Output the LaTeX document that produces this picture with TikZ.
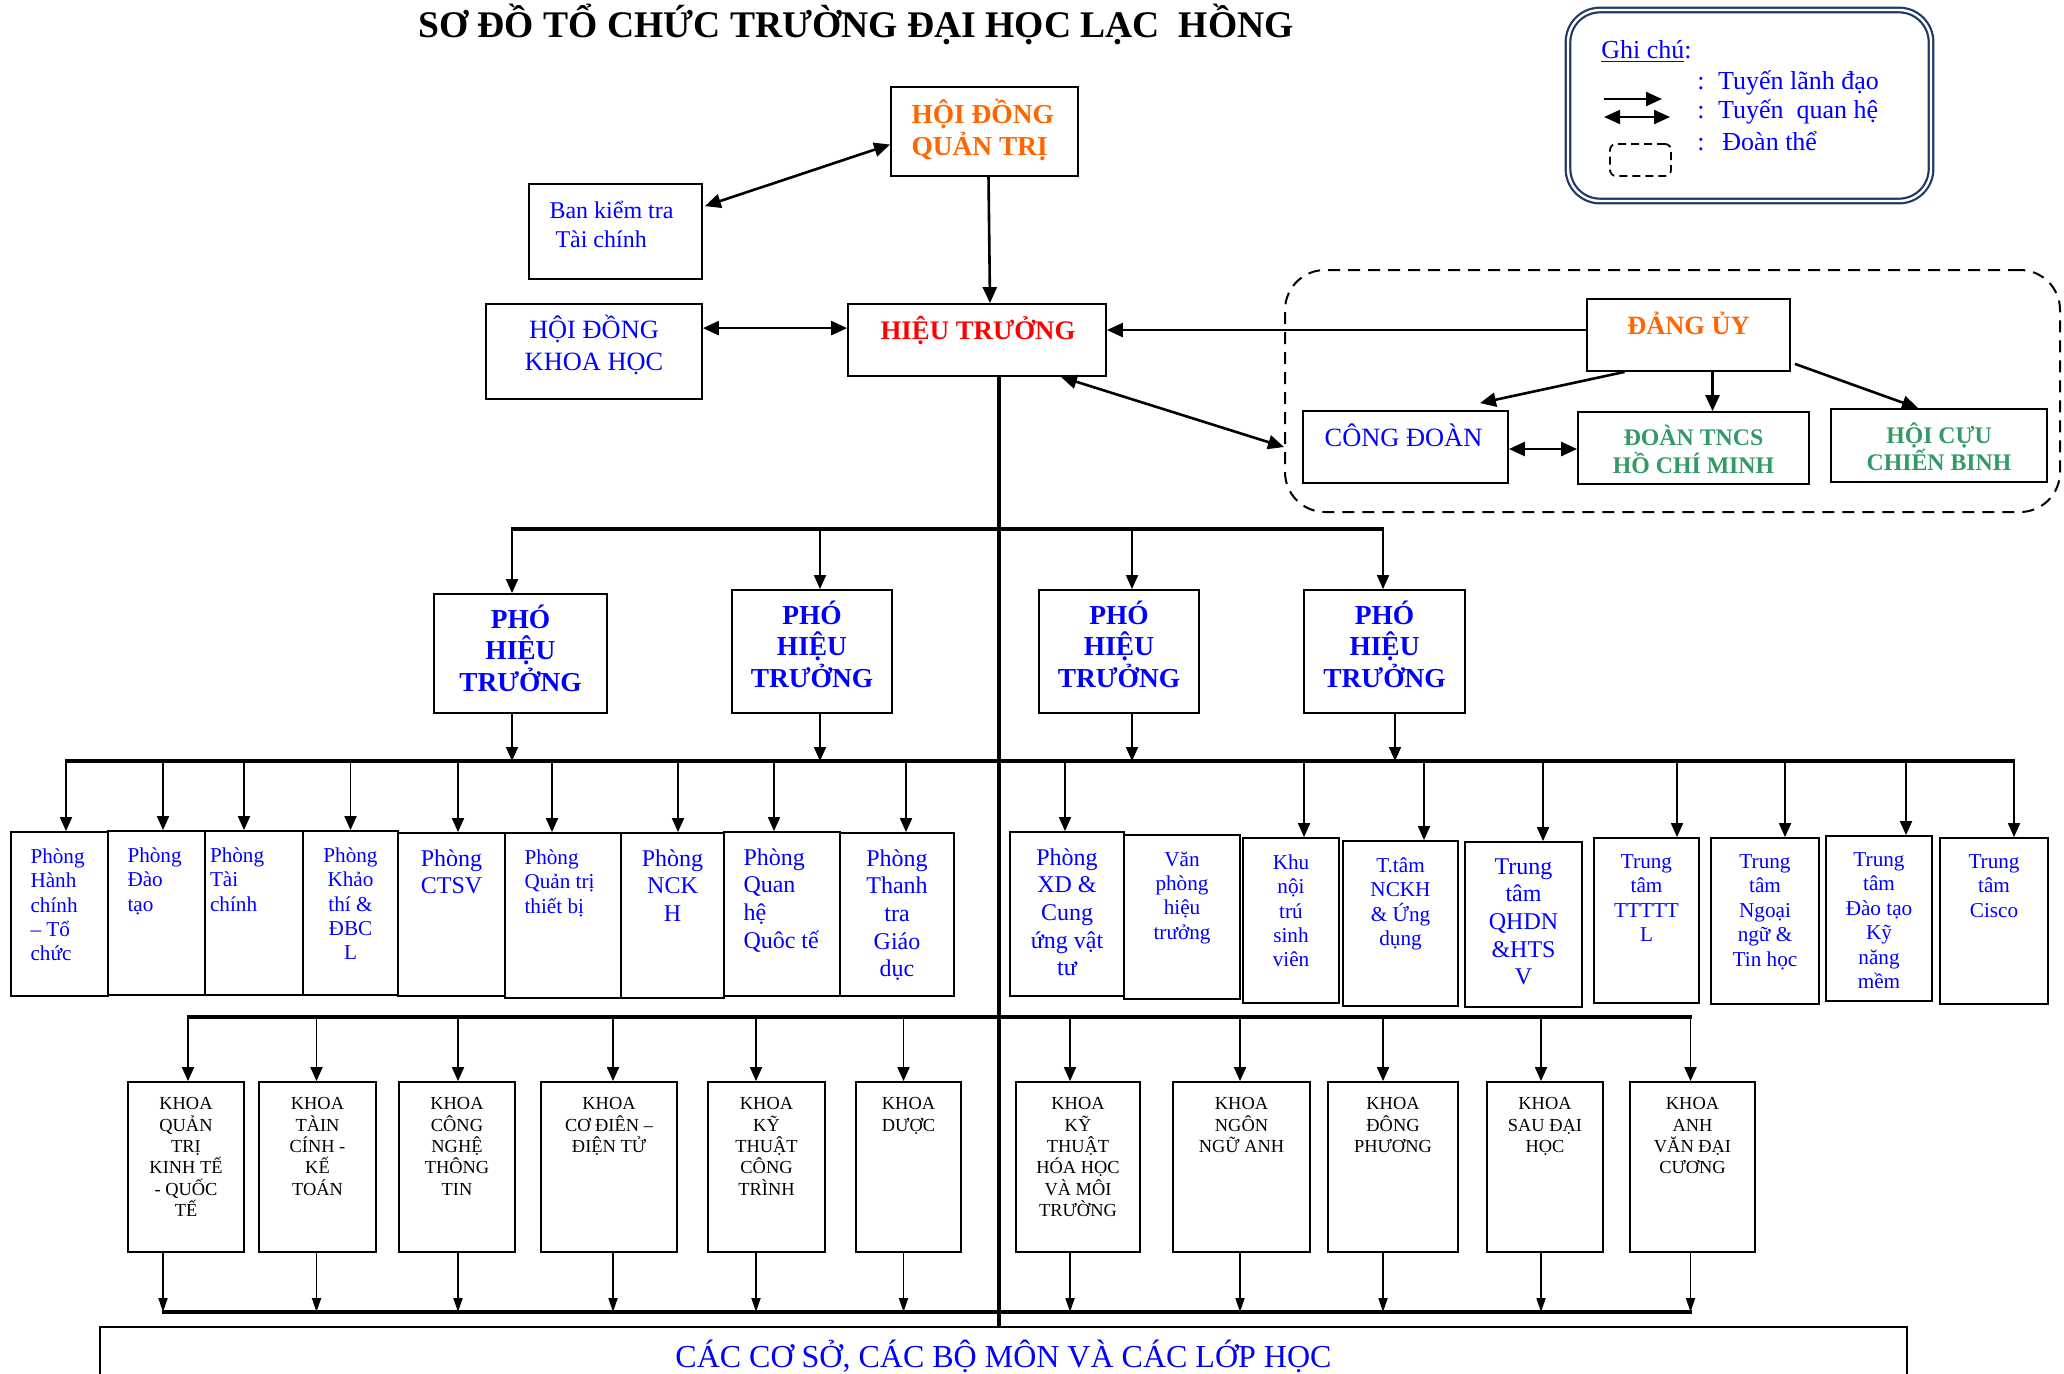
\documentclass[tikz,border=0pt]{standalone}
\usepackage{fontspec}
\setmainfont{Liberation Serif}
\usetikzlibrary{arrows.meta,calc,fit}
\definecolor{cblue}{RGB}{0,0,255}
\definecolor{corange}{RGB}{255,102,0}
\definecolor{cred}{RGB}{255,0,0}
\definecolor{cgreen}{RGB}{51,153,102}
\definecolor{cnavy}{RGB}{31,56,100}
\newcommand\tapin[4]{\path ($(#1.north)+(#2,0)$) coordinate (#1-t);\draw[#4] (#1-t |- #3) -- (#1-t);}
\newcommand\tapout[4]{\path ($(#1.south)+(#2,0)$) coordinate (#1-b);\draw[#4] (#1-b) -- (#1-b |- #3);}
\newcommand\mkbox[5]{\node[box, fit={(#2,#3)(#4,#5)}] (#1) {};}
\newcommand\ctxt[4]{\node[#2, anchor=north] at ($(#1.north)+(0,#3)$) {#4};}
\newcommand\ltxt[4]{\node[#2, align=left, anchor=north west] at ($(#1.north west)+(#3)$) {#4};}
\begin{document}
\begin{tikzpicture}[x=0.5pt,y=-0.5pt,
  box/.style={draw, line width=0.9pt, inner sep=0pt},
  big/.style={line width=1.3pt},
  lead/.style={big, -{Triangle[length=8pt,width=7pt]}},
  rel/.style={big, {Triangle[length=8pt,width=7pt]}-{Triangle[length=8pt,width=7pt]}},
  tap/.style={line width=0.9pt, -{Triangle[length=7pt,width=6pt]}},
  tapn/.style={line width=0.9pt, -{Triangle[length=7pt,width=4.5pt]}},
  bus/.style={line width=1.6pt},
  trunk/.style={line width=2pt},
  txt/.style={inner sep=0pt, align=center},
  ptS/.style={txt, text=cblue, font=\fontsize{10.6}{12.2}\selectfont},
  ptL/.style={txt, text=cblue, font=\fontsize{12}{13.8}\selectfont},
  kt/.style={txt, font=\fontsize{9.2}{10.7}\selectfont},
  phts/.style={txt, text=cblue, font=\fontsize{13.7}{15.8}\selectfont\bfseries},
  lgt/.style={anchor=base west, inner sep=0pt, text=cblue, font=\fontsize{13}{15}\selectfont},
]
\useasboundingbox (0,0) rectangle (2064,1373);
\clip (0,0) rectangle (2064,1373);
\fill[white] (0,0) rectangle (2064,1373);

% title
\node[anchor=base, inner sep=0pt, font=\fontsize{18.8}{22}\selectfont\bfseries] (title) at (856,37) {SƠ ĐỒ TỔ CHỨC TRƯỜNG ĐẠI HỌC LẠC~ HỒNG};

% legend
\node[draw=cnavy, double=white, double distance=1.2pt, line width=1.1pt, rounded corners=16pt, inner sep=0pt, fit={(1568,10)(1931,201)}] (legend) {};
\node[lgt] (lg0) at (1601,58) {\underline{Ghi chú}:};
\node[lgt] (lg1) at (1697,89) {:\hspace{6.7pt}Tuyến lãnh đạo};
\node[lgt] (lg2) at (1697,118) {:\hspace{6.7pt}Tuyến~ quan hệ};
\node[lgt] (lg3) at (1697,150) {:\hspace{8.9pt}Đoàn thể};
\coordinate (la1) at (1604,99); \coordinate (la2) at (1662,99);
\draw[lead, line width=1.1pt] (la1) -- (la2);
\coordinate (lb1) at (1604,117); \coordinate (lb2) at (1670,117);
\draw[rel, line width=1.1pt] (lb1) -- (lb2);
\node[draw, line width=0.9pt, dash pattern=on 4pt off 2.5pt, rounded corners=3pt, inner sep=0pt, fit={(1610,144)(1671,176)}] (lgbox) {};

% top boxes
\mkbox{hdqt}{891}{87}{1078}{176}
\node[txt, align=left, anchor=north west, text=corange, font=\fontsize{13.7}{16}\selectfont\bfseries] at ($(hdqt.north west)+(21,13)$) {HỘI ĐỒNG\\QUẢN TRỊ};
\mkbox{bkt}{529}{184}{702}{279}
\node[txt, align=left, anchor=north west, text=cblue, font=\fontsize{12}{14.5}\selectfont] at ($(bkt.north west)+(21,18)$) {Ban kiểm tra\\\hspace*{3pt}Tài chính};
\mkbox{hkh}{486}{304}{702}{399}
\node[txt, anchor=north, text=cblue, font=\fontsize{13.2}{16}\selectfont] at ($(hkh.north)+(0,12)$) {HỘI ĐỒNG\\KHOA HỌC};
\mkbox{ht}{848}{304}{1106}{376}
\node[txt, anchor=base, text=cred, font=\fontsize{13.4}{16}\selectfont\bfseries] at ($(ht.north)+(1,36.5)$) {HIỆU TRƯỞNG};

% doan the
\node[draw, line width=1pt, dash pattern=on 6pt off 4pt, rounded corners=20pt, inner sep=0pt, fit={(1285,270)(2060,512)}] (doanthe) {};
\mkbox{dangy}{1587}{299}{1790}{371}
\node[txt, anchor=base, text=corange, font=\fontsize{13.2}{16}\selectfont\bfseries] at ($(dangy.north)+(0,36.5)$) {ĐẢNG ỦY};
\mkbox{congdoan}{1303}{411}{1508}{483}
\node[txt, anchor=base, text=cblue, font=\fontsize{13.2}{16}\selectfont] at ($(congdoan.north)+(-2,36.5)$) {CÔNG ĐOÀN};
\mkbox{tncs}{1578}{412}{1809}{484}
\node[txt, anchor=north, text=cgreen, font=\fontsize{11.9}{13.8}\selectfont\bfseries] at ($(tncs.north)+(0,14)$) {ĐOÀN TNCS\\HỒ CHÍ MINH};
\mkbox{hccb}{1831}{409}{2047}{482}
\node[txt, anchor=north, text=cgreen, font=\fontsize{11.9}{13.8}\selectfont\bfseries] at ($(hccb.north)+(0,14)$) {HỘI CỰU\\CHIẾN BINH};

% pho hieu truong
\mkbox{pht1}{434}{594}{607}{713}
\mkbox{pht2}{732}{590}{892}{713}
\mkbox{pht3}{1039}{590}{1199}{713}
\mkbox{pht4}{1304}{590}{1465}{713}
\ctxt{pht1}{phts}{11}{PHÓ\\HIỆU\\TRƯỞNG}
\ctxt{pht2}{phts}{11}{PHÓ\\HIỆU\\TRƯỞNG}
\ctxt{pht3}{phts}{11}{PHÓ\\HIỆU\\TRƯỞNG}
\ctxt{pht4}{phts}{11}{PHÓ\\HIỆU\\TRƯỞNG}

% phong row
\mkbox{p1}{11}{832}{108}{996}
\mkbox{p2}{108}{831}{205}{995}
\mkbox{p3}{205}{831}{303}{995}
\mkbox{p4}{303}{831}{398}{995}
\mkbox{p5}{398}{833}{505}{996}
\mkbox{p6}{505}{833}{621}{998}
\mkbox{p7}{621}{833}{724}{998}
\mkbox{p8}{724}{832}{840}{996}
\mkbox{p9}{840}{833}{954}{996}
\mkbox{p10}{1010}{832}{1124}{996}
\mkbox{p11}{1124}{835}{1240}{999}
\mkbox{p12}{1243}{838}{1339}{1003}
\mkbox{p13}{1343}{841}{1458}{1006}
\mkbox{p14}{1465}{842}{1582}{1007}
\mkbox{p15}{1594}{838}{1699}{1003}
\mkbox{p16}{1711}{838}{1819}{1004}
\mkbox{p17}{1826}{836}{1932}{1001}
\mkbox{p18}{1940}{838}{2048}{1004}
\ltxt{p1}{ptS}{20,17}{Phòng\\Hành\\chính\\– Tổ\\chức}
\ltxt{p2}{ptS}{20,17}{Phòng\\Đào\\tạo}
\ltxt{p3}{ptS}{5.5,17}{Phòng\\Tài\\chính}
\ctxt{p4}{ptS}{17}{Phòng\\Khảo\\thí \&\\ĐBC\\L}
\ctxt{p5}{ptL}{17}{Phòng\\CTSV}
\ltxt{p6}{ptS}{20,17}{Phòng\\Quản trị\\thiết bị}
\ctxt{p7}{ptL}{17}{Phòng\\NCK\\H}
\ltxt{p8}{ptL}{20,17}{Phòng\\Quan\\hệ\\Quôc tế}
\ctxt{p9}{ptL}{17}{Phòng\\Thanh\\tra\\Giáo\\dục}
\ctxt{p10}{ptL}{17}{Phòng\\XD \&\\Cung\\ứng vật\\tư}
\ctxt{p11}{ptS}{17}{Văn\\phòng\\hiệu\\trưởng}
\ctxt{p12}{ptS}{17}{Khu\\nội\\trú\\sinh\\viên}
\ctxt{p13}{ptS}{17}{T.tâm\\NCKH\\\& Ứng\\dụng}
\ctxt{p14}{ptL}{17}{Trung\\tâm\\QHDN\\\&HTS\\V}
\ctxt{p15}{ptS}{17}{Trung\\tâm\\TTTTT\\L}
\ctxt{p16}{ptS}{17}{Trung\\tâm\\Ngoại\\ngữ \&\\Tin học}
\ctxt{p17}{ptS}{17}{Trung\\tâm\\Đào tạo\\Kỹ\\năng\\mềm}
\ctxt{p18}{ptS}{17}{Trung\\tâm\\Cisco}

% khoa row
\mkbox{k1}{128}{1082}{244}{1252}
\mkbox{k2}{259}{1082}{376}{1252}
\mkbox{k3}{399}{1082}{515}{1252}
\mkbox{k4}{541}{1082}{677}{1252}
\mkbox{k5}{708}{1082}{825}{1252}
\mkbox{k6}{856}{1082}{961}{1252}
\mkbox{k7}{1016}{1082}{1140}{1252}
\mkbox{k8}{1173}{1082}{1310}{1252}
\mkbox{k9}{1328}{1082}{1458}{1252}
\mkbox{k10}{1487}{1082}{1603}{1252}
\mkbox{k11}{1630}{1082}{1755}{1252}
\ctxt{k1}{kt}{16}{KHOA\\QUẢN\\TRỊ\\KINH TẾ\\- QUỐC\\TẾ}
\ctxt{k2}{kt}{16}{KHOA\\TÀIN\\CÍNH -\\KẾ\\TOÁN}
\ctxt{k3}{kt}{16}{KHOA\\CÔNG\\NGHỆ\\THÔNG\\TIN}
\ctxt{k4}{kt}{16}{KHOA\\CƠ ĐIÊN –\\ĐIỆN TỬ}
\ctxt{k5}{kt}{16}{KHOA\\KỸ\\THUẬT\\CÔNG\\TRÌNH}
\ctxt{k6}{kt}{16}{KHOA\\DƯỢC}
\ctxt{k7}{kt}{16}{KHOA\\KỸ\\THUẬT\\HÓA HỌC\\VÀ MÔI\\TRƯỜNG}
\ctxt{k8}{kt}{16}{KHOA\\NGÔN\\NGỮ ANH}
\ctxt{k9}{kt}{16}{KHOA\\ĐÔNG\\PHƯƠNG}
\ctxt{k10}{kt}{16}{KHOA\\SAU ĐẠI\\HỌC}
\ctxt{k11}{kt}{16}{KHOA\\ANH\\VĂN ĐẠI\\CƯƠNG}

% base box
\node[draw, line width=1.4pt, inner sep=0pt, fit={(100,1327)(1907,1400)}] (base) {};
\node[txt, anchor=base, text=cblue, font=\fontsize{16}{19}\selectfont] at ($(base.north)+(0,42)$) {CÁC CƠ SỞ, CÁC BỘ MÔN VÀ CÁC LỚP HỌC};

% connectors top
\draw[lead] ($(hdqt.south)+(4,0)$) -- ($(ht.north)+(13,0)$);
\draw[rel] ($(bkt.north east)+(2,23)$) -- ($(hdqt.west)+(0,13)$);
\draw[rel] ($(hkh.north east)+(0,25)$) -- ($(ht.north west)+(0,25)$);
\path ($(dangy.west)+(0,-5)$) coordinate (dw);
\draw[lead] (dw) -- (dw -| ht.east);
\draw[rel] ($(ht.south east)+(-46,0)$) -- (doanthe.west |- congdoan.center);
\draw[lead] ($(dangy.south)+(-64,0)$) -- ($(congdoan.north east)+(-29,-7)$);
\path ($(dangy.south)+(24,0)$) coordinate (dt);
\draw[lead] (dt) -- (dt |- tncs.north);
\draw[lead] ($(dangy.south east)+(4,-8)$) -- ($(hccb.north)+(-21,0)$);
\path ($(congdoan.east)+(0,2)$) coordinate (ce);
\draw[rel] (ce) -- (ce -| tncs.west);

% trunk
\path ($(ht.south)+(22,0)$) coordinate (trk);
\draw[trunk] (trk) -- (trk |- base.north);

% buses
\coordinate (busAl) at (511,529); \coordinate (busAr) at (1384,529);
\coordinate (busBl) at (65,761); \coordinate (busBr) at (2015,761);
\coordinate (busCl) at (187,1017); \coordinate (busCr) at (1692,1017);
\coordinate (busDl) at (162,1312); \coordinate (busDr) at (1692,1312);
\draw[bus] (busAl) -- (busAr);
\draw[bus] (busBl) -- (busBr);
\draw[bus] (busCl) -- (busCr);
\draw[bus] (busDl) -- (busDr);

% taps PHT
\tapin{pht1}{-8.5}{busAl}{tap}
\tapin{pht2}{8}{busAl}{tap}
\tapin{pht3}{13}{busAl}{tap}
\tapin{pht4}{-1.5}{busAl}{tap}
\tapout{pht1}{-8.5}{busBl}{tap}
\tapout{pht2}{8}{busBl}{tap}
\tapout{pht3}{13}{busBl}{tap}
\tapout{pht4}{10.5}{busBl}{tap}

% taps phong
\tapin{p1}{6.5}{busBl}{tap}
\tapin{p2}{6.5}{busBl}{tap}
\tapin{p3}{-10}{busBl}{tap}
\tapin{p4}{0}{busBl}{tap}
\tapin{p5}{6.5}{busBl}{tap}
\tapin{p6}{-11}{busBl}{tap}
\tapin{p7}{5.5}{busBl}{tap}
\tapin{p8}{-8}{busBl}{tap}
\tapin{p9}{9}{busBl}{tap}
\tapin{p10}{-2}{busBl}{tap}
\tapin{p12}{13}{busBl}{tap}
\tapin{p13}{23.5}{busBl}{tap}
\tapin{p14}{19.5}{busBl}{tap}
\tapin{p15}{30.5}{busBl}{tap}
\tapin{p16}{20}{busBl}{tap}
\tapin{p17}{27}{busBl}{tap}
\tapin{p18}{20}{busBl}{tap}

% taps khoa
\tapin{k1}{2}{busCl}{tap}
\tapin{k2}{-1}{busCl}{tap}
\tapin{k3}{1}{busCl}{tap}
\tapin{k4}{4}{busCl}{tap}
\tapin{k5}{-10.5}{busCl}{tap}
\tapin{k6}{-5}{busCl}{tap}
\tapin{k7}{-8}{busCl}{tap}
\tapin{k8}{-1.5}{busCl}{tap}
\tapin{k9}{-10}{busCl}{tap}
\tapin{k10}{-4}{busCl}{tap}
\tapin{k11}{-2}{busCl}{tap}
\tapout{k1}{-23}{busDl}{tapn}
\tapout{k2}{-1}{busDl}{tapn}
\tapout{k3}{1}{busDl}{tapn}
\tapout{k4}{4}{busDl}{tapn}
\tapout{k5}{-10.5}{busDl}{tapn}
\tapout{k6}{-5}{busDl}{tapn}
\tapout{k7}{-8}{busDl}{tapn}
\tapout{k8}{-1.5}{busDl}{tapn}
\tapout{k9}{-10}{busDl}{tapn}
\tapout{k10}{-4}{busDl}{tapn}
\tapout{k11}{-2}{busDl}{tapn}
\end{tikzpicture}
\end{document}
